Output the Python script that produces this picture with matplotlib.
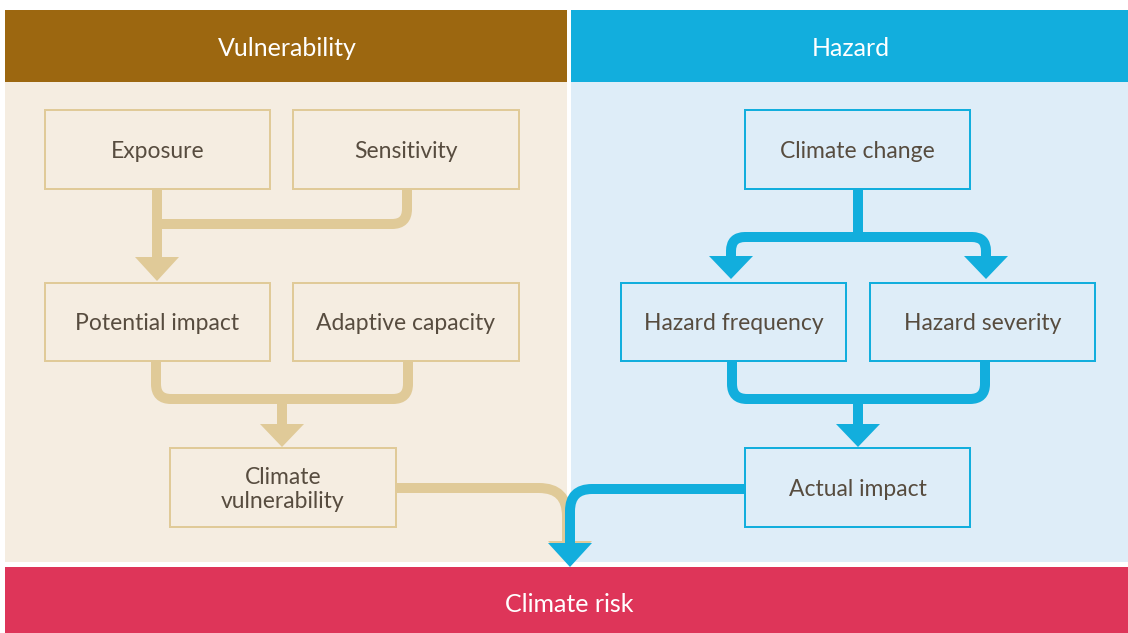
import matplotlib
matplotlib.use("Agg")
import matplotlib.pyplot as plt
from matplotlib.patches import Rectangle, Polygon, PathPatch
from matplotlib.path import Path
import numpy as np

# diagram content
panel_titles = ["Vulnerability", "Hazard"]
left_labels = ["Exposure", "Sensitivity", "Potential impact", "Adaptive capacity", "Climate\nvulnerability"]
right_labels = ["Climate change", "Hazard frequency", "Hazard severity", "Actual impact"]
bottom_label = "Climate risk"

# layout in pixels (x0, y0, x1, y1), y grows downward
left_boxes = [(45, 110, 270, 189), (293, 110, 519, 189), (45, 283, 270, 361),
              (293, 283, 519, 361), (170, 448, 396, 527)]
right_boxes = [(745, 110, 970, 189), (621, 283, 846, 361), (870, 283, 1095, 361),
               (745, 448, 970, 527)]

BROWN = "#9C6710"
BLUE = "#12AEDD"
BEIGE = "#F5EDE1"
LIGHTBLUE = "#DEEDF8"
TAN = "#E0CA98"
RED = "#DE3559"
TEXT = "#574c3f"

plt.rcParams['font.family'] = ['Lato', 'DejaVu Sans']

W, H = 1128, 633
fig = plt.figure(figsize=(W / 100, H / 100), dpi=100)
ax = fig.add_axes([0, 0, 1, 1])
ax.set_xlim(0, W)
ax.set_ylim(H, 0)
ax.axis("off")

PX = 72 / 100  # pixels -> points


def rect(x0, y0, x1, y1, **kw):
    ax.add_patch(Rectangle((x0, y0), x1 - x0, y1 - y0, **kw))


def rounded(points, r):
    pts = [np.array(p, float) for p in points]
    verts = [pts[0]]
    codes = [Path.MOVETO]
    for i in range(1, len(pts) - 1):
        p0, p1, p2 = pts[i - 1], pts[i], pts[i + 1]
        d1 = (p1 - p0) / np.linalg.norm(p1 - p0)
        d2 = (p2 - p1) / np.linalg.norm(p2 - p1)
        verts += [p1 - d1 * r, p1, p1 + d2 * r]
        codes += [Path.LINETO, Path.CURVE3, Path.CURVE3]
    verts.append(pts[-1])
    codes.append(Path.LINETO)
    return Path(verts, codes)


def line(points, color, r=15, lw=10):
    ax.add_patch(PathPatch(rounded(points, r), fill=False, edgecolor=color,
                           lw=lw * PX, capstyle="butt", joinstyle="round"))


def head(x, top, tip, color, half=22):
    ax.add_patch(Polygon([(x - half, top), (x + half, top), (x, tip)],
                         closed=True, facecolor=color, edgecolor="none"))


# panels and headers
rect(5, 82, 567, 562, facecolor=BEIGE, edgecolor="none")
rect(571, 82, W, 562, facecolor=LIGHTBLUE, edgecolor="none")
rect(5, 10, 567, 82, facecolor=BROWN, edgecolor="none")
rect(571, 10, W, 82, facecolor=BLUE, edgecolor="none")
rect(5, 567, W, H, facecolor=RED, edgecolor="none")

ax.text(287, 48, panel_titles[0], color="white", fontsize=18, ha="center", va="center")
ax.text(851, 48, panel_titles[1], color="white", fontsize=18, ha="center", va="center")
ax.text(569, 605, bottom_label, color="white", fontsize=18, ha="center", va="center")

# boxes
for (x0, y0, x1, y1), lab in zip(left_boxes, left_labels):
    rect(x0, y0, x1, y1, facecolor=BEIGE, edgecolor=TAN, lw=2 * PX)
    ax.text((x0 + x1) / 2, (y0 + y1) / 2 + 2, lab, color=TEXT, fontsize=16.5,
            ha="center", va="center", linespacing=1.12)
for (x0, y0, x1, y1), lab in zip(right_boxes, right_labels):
    rect(x0, y0, x1, y1, facecolor=LIGHTBLUE, edgecolor=BLUE, lw=2 * PX)
    ax.text((x0 + x1) / 2, (y0 + y1) / 2 + 2, lab, color=TEXT, fontsize=16.5,
            ha="center", va="center")

# vulnerability connectors
line([(157, 190), (157, 258)], TAN)
line([(407, 190), (407, 224), (157, 224)], TAN)
head(157, 257, 281, TAN)
line([(156, 362), (156, 399), (408, 399), (408, 362)], TAN)
line([(282, 399), (282, 425)], TAN)
head(282, 424, 447, TAN)
line([(397, 488), (567, 488), (567, 543)], TAN, r=28)
head(570, 541, 565, TAN)

# hazard connectors
line([(858, 190), (858, 238)], BLUE)
line([(731, 258), (731, 237), (986, 237), (986, 258)], BLUE, r=14)
head(731, 256, 279, BLUE)
head(986, 256, 279, BLUE)
line([(732, 362), (732, 399), (985, 399), (985, 362)], BLUE)
line([(858, 399), (858, 425)], BLUE)
head(858, 424, 447, BLUE)
line([(745, 489), (570, 489), (570, 544)], BLUE, r=22)
head(570, 543, 567, BLUE)

fig.savefig("out.png", dpi=100, facecolor="white")
